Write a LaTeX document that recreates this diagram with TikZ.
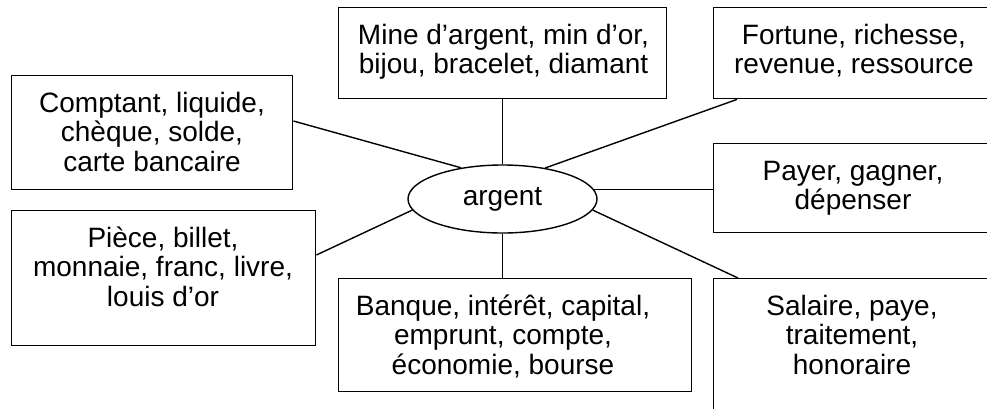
\documentclass[tikz,border=0pt]{standalone}
\usepackage{fontspec}
\setmainfont{Liberation Sans}
\usetikzlibrary{shapes.geometric}
\newcommand{\mytopstrut}{\rule{0pt}{25pt}}
\begin{document}
\begin{tikzpicture}[x=1pt,y=-1pt,
  box/.style={draw, line width=1.4pt, rectangle, inner sep=0pt, anchor=north west},
  lbl/.style={anchor=north, inner sep=0pt, align=center, font=\fontsize{28}{29.5}\selectfont},
  link/.style={line width=1.4pt}]
\useasboundingbox (0,0) rectangle (987,408);
\fill[white] (0,0) rectangle (987,408);
\clip (0,0) rectangle (987,408);
% boxes
\node[box, minimum width=281pt, minimum height=114pt] (b1) at (11,75) {};
\node[box, minimum width=328pt, minimum height=91pt] (b2) at (338,7) {};
\node[box, minimum width=282pt, minimum height=91pt] (b3) at (713,7) {};
\node[box, minimum width=282pt, minimum height=89pt] (b4) at (713,143) {};
\node[box, minimum width=282pt, minimum height=160pt] (b5) at (713,278) {};
\node[box, minimum width=353pt, minimum height=113pt] (b6) at (338,278) {};
\node[box, minimum width=304pt, minimum height=135pt] (b7) at (11,210) {};
% texts
\node[lbl] (t1) at (152,87) {\mytopstrut Comptant, liquide,\\chèque, solde,\\carte bancaire};
\node[lbl] (t2) at (503.5,19) {\mytopstrut Mine d’argent, min d’or,\\bijou, bracelet, diamant};
\node[lbl] (t3) at (854,19) {\mytopstrut Fortune, richesse,\\revenue, ressource};
\node[lbl] (t4) at (853,155) {\mytopstrut Payer, gagner,\\dépenser};
\node[lbl] (t5) at (852,290) {\mytopstrut Salaire, paye,\\traitement,\\honoraire};
\node[lbl] (t6) at (503,290) {\mytopstrut Banque, intérêt, capital,\\emprunt, compte,\\économie, bourse};
\node[lbl] (t7) at (163,222) {\mytopstrut Pièce, billet,\\monnaie, franc, livre,\\louis d’or};
% centre
\node[draw, ellipse, line width=1.4pt, minimum width=189pt, minimum height=68pt, inner sep=0pt, font=\fontsize{28}{29.5}\selectfont] (arg) at (502.5,199) {argent};
% connectors
\draw[link] ([yshift=-46pt]b1.north east) -- (arg.143);
\draw[link] (arg.north) -- (arg.north |- b2.south);
\draw[link] ([xshift=24pt]b3.south west) -- (arg.36);
\draw[link] (arg.6) -- (arg.6 -| b4.west);
\draw[link] (arg.south) -- (arg.south |- b6.north);
\draw[link] (arg.-7) -- ([xshift=25pt]b5.north west);
\draw[link] (arg.187) -- ([yshift=-45pt]b7.north east);
\end{tikzpicture}
\end{document}
